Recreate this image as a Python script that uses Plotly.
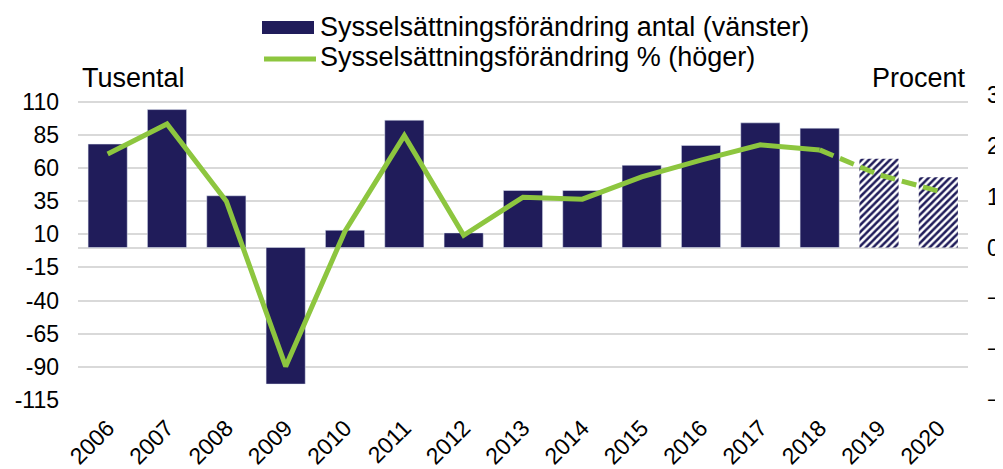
import plotly.graph_objects as go

years = ["2006", "2007", "2008", "2009", "2010", "2011", "2012", "2013", "2014",
         "2015", "2016", "2017", "2018", "2019", "2020"]
antal = [78, 104, 39, -103, 13, 96, 11, 43, 43, 62, 77, 94, 90, 67, 53]
procent = [1.84, 2.43, 0.91, -2.34, 0.32, 2.2, 0.24, 0.99, 0.95, 1.39, 1.72, 2.02, 1.92, 1.43, 1.11]
n_outcome = 13  # 2006-2018 outcome, 2019-2020 forecast

left_ticks = [110, 85, 60, 35, 10, -15, -40, -65, -90, -115]
right_ticks = [3, 2, 1, 0, -1, -2, -3]

name_bar = "Sysselsättningsförändring antal (vänster)"
name_line = "Sysselsättningsförändring % (höger)"

NAVY = "#201C5A"
GREEN = "#8DC63F"
GRID = "#D9D9D9"
FONT = "Liberation Sans, Arial, sans-serif"

fig = go.Figure()
fig.add_trace(go.Bar(x=years[:n_outcome], y=antal[:n_outcome], marker_color=NAVY,
                     name=name_bar, showlegend=False))
fig.add_trace(go.Bar(x=years[n_outcome:], y=antal[n_outcome:], showlegend=False,
                     marker=dict(color="white", line=dict(width=0),
                                 pattern=dict(shape="/", fgcolor=NAVY, bgcolor="white", fgopacity=1,
                                              size=5, solidity=0.5, fillmode="replace"))))
fig.add_trace(go.Scatter(x=years[:n_outcome], y=procent[:n_outcome], yaxis="y2", mode="lines",
                         line=dict(color=GREEN, width=5), name=name_line, showlegend=False))
fig.add_trace(go.Scatter(x=years[n_outcome - 1:], y=procent[n_outcome - 1:], yaxis="y2", mode="lines",
                         line=dict(color=GREEN, width=5, dash="15px,7px"), showlegend=False))

# page has an 8px body margin; plot area on the page spans x 78..968 px, y 95..400 px
def px_x(p):
    return (p - 78) / 890

def px_y(p):
    return (400 - p) / 305

shapes = [
    dict(type="rect", xref="paper", yref="paper", x0=px_x(262), x1=px_x(314), y0=px_y(34), y1=px_y(21),
         fillcolor=NAVY, line=dict(width=0)),
    dict(type="line", xref="paper", yref="paper", x0=px_x(264), x1=px_x(316), y0=px_y(59), y1=px_y(59),
         line=dict(color=GREEN, width=5)),
]

fig.update_layout(
    width=1003, height=469,
    margin=dict(l=70, r=43, t=87, b=77, autoexpand=False),
    plot_bgcolor="white", paper_bgcolor="white",
    font=dict(family=FONT, size=23, color="black"),
    barmode="overlay", bargap=0.34,
    showlegend=False,
    xaxis=dict(type="category", tickangle=-45, showgrid=False, showline=False, ticks="",
               tickfont=dict(size=23), automargin=False, ticklabelstandoff=9),
    yaxis=dict(range=[-115, 115], tickvals=left_ticks, ticktext=[str(v) for v in left_ticks],
               showgrid=True, gridcolor=GRID, gridwidth=2, zeroline=True, zerolinecolor=GRID,
               zerolinewidth=2, ticks="", tickfont=dict(size=23), automargin=False,
               ticklabelstandoff=18),
    yaxis2=dict(range=[-3, 3], overlaying="y", side="right", tickvals=right_ticks,
                showgrid=False, zeroline=False, ticks="", tickfont=dict(size=23), automargin=False,
                ticklabelstandoff=18),
    shapes=shapes,
    annotations=[
        dict(text="Tusental", xref="paper", yref="paper", x=px_x(80), y=1.0, xanchor="left",
             yanchor="bottom", showarrow=False, font=dict(size=27)),
        dict(text="Procent", xref="paper", yref="paper", x=1.0, y=1.0, xanchor="right",
             yanchor="bottom", showarrow=False, font=dict(size=27)),
        dict(text=name_bar, xref="paper", yref="paper", x=px_x(318), y=px_y(27), xanchor="left",
             yanchor="middle", showarrow=False, font=dict(size=27)),
        dict(text=name_line, xref="paper", yref="paper", x=px_x(318), y=px_y(57), xanchor="left",
             yanchor="middle", showarrow=False, font=dict(size=27)),
    ],
)

fig.write_html("out.html")
